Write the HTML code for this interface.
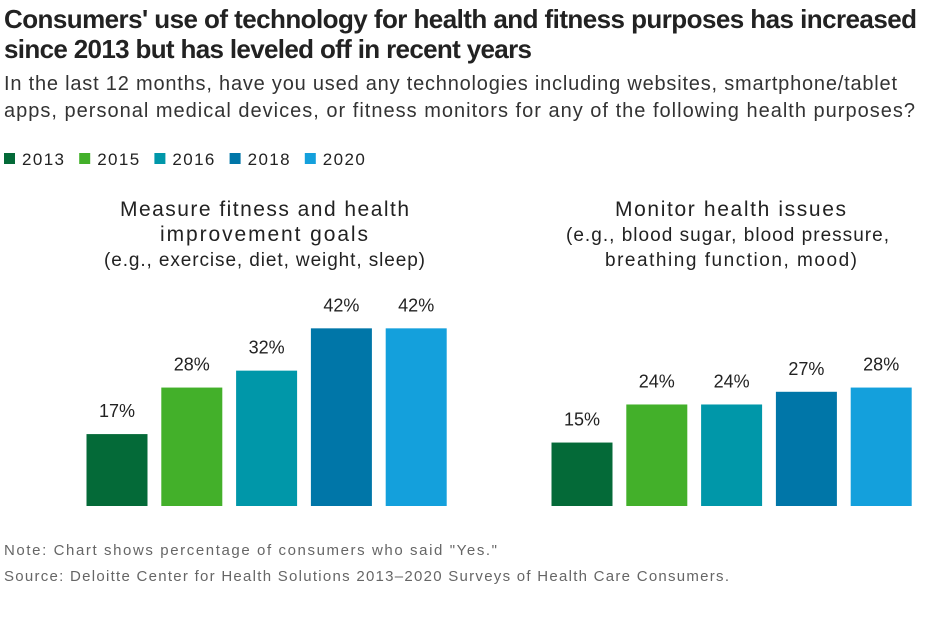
<!DOCTYPE html>
<html><head><meta charset="utf-8"><style>
body{margin:0;background:#fff;width:939px;height:615px;overflow:hidden;font-family:"Liberation Sans",sans-serif}
</style></head><body>
<svg width="939" height="615" xmlns="http://www.w3.org/2000/svg">
<text x="4" y="28" font-family="Liberation Sans Narrow, Liberation Sans, sans-serif" font-weight="bold" font-size="26" fill="#222" textLength="913">Consumers' use of technology for health and fitness purposes has increased</text>
<text x="4" y="58" font-family="Liberation Sans Narrow, Liberation Sans, sans-serif" font-weight="bold" font-size="26" fill="#222" textLength="528">since 2013 but has leveled off in recent years</text>
<text x="4" y="90" font-size="20" fill="#333" textLength="893">In the last 12 months, have you used any technologies including websites, smartphone/tablet</text>
<text x="4" y="117" font-size="20" fill="#333" textLength="911">apps, personal medical devices, or fitness monitors for any of the following health purposes?</text>
<g id="legend"></g>
<g font-size="21" fill="#222">
<text x="120" y="216" textLength="289">Measure fitness and health</text>
<text x="160" y="241" textLength="208">improvement goals</text>
<text x="104" y="266" font-size="19" textLength="321">(e.g., exercise, diet, weight, sleep)</text>
</g>
<g font-size="21" fill="#222">
<text x="615" y="216" textLength="231">Monitor health issues</text>
<text x="566" y="241" font-size="19" textLength="323">(e.g., blood sugar, blood pressure,</text>
<text x="605" y="266" font-size="19" textLength="252">breathing function, mood)</text>
</g>
<g id="bars"></g>
<text x="4" y="555" font-size="15" fill="#666" textLength="493">Note: Chart shows percentage of consumers who said "Yes."</text>
<text x="4" y="581" font-size="15" fill="#666" textLength="725">Source: Deloitte Center for Health Solutions 2013–2020 Surveys of Health Care Consumers.</text>
</svg>
<script>
const years=["2013","2015","2016","2018","2020"];
const fitness=[17,28,32,42,42];
const monitor=[15,24,24,27,28];
const colors=["#046A38","#43B02A","#0097A9","#0076A8","#14A0DC"];
const ns="http://www.w3.org/2000/svg";
const leg=document.getElementById('legend');
years.forEach((y,i)=>{
  const g=document.createElementNS(ns,'g');
  
  
  const r=document.createElementNS(ns,'rect');
  r.setAttribute('x',4+i*75.2);r.setAttribute('y',153);r.setAttribute('width',11);r.setAttribute('height',11);r.setAttribute('fill',colors[i]);
  const t=document.createElementNS(ns,'text');
  t.setAttribute('x',22+i*75.2);t.setAttribute('y',165);t.setAttribute('font-size','17');t.setAttribute('fill','#222');t.setAttribute('textLength','42');t.textContent=y;
  g.appendChild(r);g.appendChild(t);leg.appendChild(g);
});
const base=506,scale=4.23,bw=61;
function yv(v){return base-v*scale;}
const bars=document.getElementById('bars');
function group(data,x0,name){
  data.forEach((v,i)=>{
    const x=x0+i*74.8;
    const r=document.createElementNS(ns,'rect');
    
    
    r.setAttribute('x',x);r.setAttribute('y',yv(v));r.setAttribute('width',bw);r.setAttribute('height',base-yv(v));r.setAttribute('fill',colors[i]);
    bars.appendChild(r);
    const t=document.createElementNS(ns,'text');
    
    
    t.setAttribute('x',x+bw/2);t.setAttribute('y',yv(v)-17);t.setAttribute('text-anchor','middle');t.setAttribute('font-size','18');t.setAttribute('fill','#222');
    t.textContent=v+'%';
    bars.appendChild(t);
  });
}
group(fitness,86.5,'fitness');
group(monitor,551.5,'monitor');
</script>
</body></html>
